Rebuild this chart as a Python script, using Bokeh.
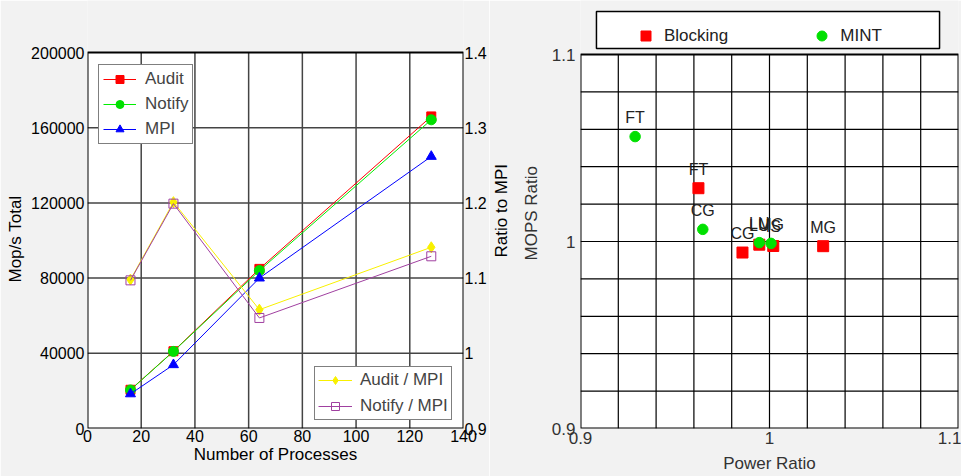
from bokeh.plotting import figure
from bokeh.layouts import row
from bokeh.models import (Range1d, LinearAxis, FixedTicker, NumeralTickFormatter,
                          Legend, LegendItem, Title)
from bokeh.core.properties import value
from bokeh.embed import file_html
from bokeh.resources import INLINE

# ---------------- data: left chart ----------------
processes = [16, 32, 64, 128]
audit = [20600, 41100, 84900, 166000]
notify = [20500, 41000, 84000, 164200]
mpi = [18400, 33900, 80000, 144700]
audit_mpi = [1.098, 1.201, 1.058, 1.141]
notify_mpi = [1.097, 1.199, 1.047, 1.129]

x_ticks = [0, 20, 40, 60, 80, 100, 120, 140]
mops_ticks = [0, 40000, 80000, 120000, 160000, 200000]
ratio_ticks = [0.9, 1.0, 1.1, 1.2, 1.3, 1.4]

# ---------------- data: right chart ----------------
bench_blocking = ["FT", "CG", "LU", "IS", "MG"]
power_blocking = [0.9624, 0.9857, 0.9946, 1.0020, 1.0284]
mops_blocking = [1.0285, 0.9941, 0.9983, 0.9976, 0.9975]
bench_mint = ["FT", "CG", "LU", "MG"]
power_mint = [0.9289, 0.9647, 0.9946, 1.0008]
mops_mint = [1.0561, 1.0065, 0.9994, 0.9990]

ratio2_ticks = [0.9, 1.0, 1.1]
ratio2_grid = [0.92, 0.94, 0.96, 0.98, 1.00, 1.02, 1.04, 1.06, 1.08]

BG = "#f2f2f2"
FONT = "Liberation Sans"
H = 476
BOTTOM = 48          # both figures: x axis area height
FRAME_H = H - BOTTOM  # frames run from the canvas top down to the x axis

x_lo, x_hi = x_ticks[0], x_ticks[-1]
m_lo, m_hi = mops_ticks[0], mops_ticks[-1]
r_lo, r_hi = ratio_ticks[0], ratio_ticks[-1]
p_lo, p_hi = ratio2_ticks[0], ratio2_ticks[-1]


def axis_style(ax, tick_size, color):
    ax.major_tick_out = 0
    ax.major_tick_in = 0
    ax.minor_tick_line_color = None
    ax.axis_line_color = None
    ax.major_label_text_font = FONT
    ax.major_label_text_font_size = tick_size
    ax.major_label_text_color = color
    ax.axis_label_text_font = FONT
    ax.axis_label_text_font_size = "17px"
    ax.axis_label_text_font_style = "normal"
    ax.axis_label_text_color = color


def side_title(text, offset, standoff, color):
    return Title(text=text, align="left", offset=offset, standoff=standoff,
                 text_font=FONT, text_font_size="17px", text_font_style="normal",
                 text_color=color)


# ================= left figure =================
L_W = 489
L_TOP = 52  # pixel row of the top of the plot box
m_top = m_hi + L_TOP * (m_hi - m_lo) / (FRAME_H - L_TOP)
r_top = r_hi + L_TOP * (r_hi - r_lo) / (FRAME_H - L_TOP)

p1 = figure(width=L_W, height=H, x_range=Range1d(x_lo, x_hi), y_range=Range1d(m_lo, m_top),
            output_backend="svg", toolbar_location=None,
            min_border_left=87, min_border_right=L_W - 87 - 378, min_border_top=0,
            min_border_bottom=BOTTOM,
            background_fill_color=BG, border_fill_color=BG, outline_line_color=None)
p1.extra_y_ranges = {"ratio": Range1d(r_lo, r_top)}
p1.grid.visible = False

p1.xaxis.ticker = FixedTicker(ticks=x_ticks)
p1.yaxis.ticker = FixedTicker(ticks=mops_ticks)
p1.yaxis.formatter = NumeralTickFormatter(format="0")
p1.xaxis.axis_label = "Number of Processes"

rax = LinearAxis(y_range_name="ratio", ticker=FixedTicker(ticks=ratio_ticks),
                 formatter=NumeralTickFormatter(format="0.[0]"))
p1.add_layout(rax, "right")

for ax in p1.axis:
    axis_style(ax, "16px", "black")
p1.xaxis.major_label_standoff = 1
p1.xaxis.axis_label_standoff = 0
p1.yaxis.major_label_standoff = 3
rax.major_label_standoff = 1

p1.add_layout(side_title("Mop/s Total", FRAME_H - 282, 7, "black"), "left")

# plot box and grid
p1.quad(left=[x_lo], right=[x_hi], bottom=[m_lo], top=[m_hi], fill_color="white", line_color=None)
gx = x_ticks[1:-1]
gy = mops_ticks[1:-1]
p1.segment(x0=gx, x1=gx, y0=[m_lo] * len(gx), y1=[m_hi] * len(gx),
           line_color="#444444", line_width=1.5)
p1.segment(x0=[x_lo] * len(gy), x1=[x_hi] * len(gy), y0=gy, y1=gy,
           line_color="#444444", line_width=1.5)
p1.quad(left=[x_lo], right=[x_hi], bottom=[m_lo], top=[m_hi], fill_color=None,
        line_color="black", line_width=2)

la = p1.line(processes, audit, line_color="red", line_width=1)
sa = p1.scatter(processes, audit, marker="square", size=9, color="red")
ln = p1.line(processes, notify, line_color="#00ee00", line_width=1)
sn = p1.scatter(processes, notify, marker="circle", size=10, color="#00e000")
lm = p1.line(processes, mpi, line_color="blue", line_width=1)
sm = p1.scatter(processes, mpi, marker="triangle", size=10, color="blue")
lam = p1.line(processes, audit_mpi, y_range_name="ratio", line_color="#f8f000", line_width=1)
sam = p1.scatter(processes, audit_mpi, y_range_name="ratio", marker="diamond", size=11,
                 color="#f8f000")
lnm = p1.line(processes, notify_mpi, y_range_name="ratio", line_color="#a040a0", line_width=1)
snm = p1.scatter(processes, notify_mpi, y_range_name="ratio", marker="square", size=9,
                 fill_color=None, line_color="#a040a0", line_width=1)

leg1 = Legend(items=[LegendItem(label="Audit", renderers=[la, sa]),
                     LegendItem(label="Notify", renderers=[ln, sn]),
                     LegendItem(label="MPI", renderers=[lm, sm])],
              location=(11, 284), padding=4, spacing=5, margin=0,
              glyph_width=33, glyph_height=20, label_standoff=9,
              label_text_font=FONT, label_text_font_size="17px",
              border_line_color="black", border_line_width=1.5,
              background_fill_color="white", background_fill_alpha=1)
leg2 = Legend(items=[LegendItem(label="Audit / MPI", renderers=[lam, sam]),
                     LegendItem(label="Notify / MPI", renderers=[lnm, snm])],
              location=(227, 8), padding=3, spacing=6, margin=0,
              glyph_width=34, glyph_height=20, label_standoff=8,
              label_text_font=FONT, label_text_font_size="17px",
              border_line_color="black", border_line_width=1.5,
              background_fill_color="white", background_fill_alpha=1)
p1.add_layout(leg1)
p1.add_layout(leg2)

# ================= right figure =================
R_W = 961 - L_W
R_LEFT, R_RIGHT = 90, 3
R_TOP = 54   # pixel row of the top of the plot box
FRAME_W = R_W - R_LEFT - R_RIGHT
ypp = (p_hi - p_lo) / (FRAME_H - R_TOP)
xpp = (p_hi - p_lo) / FRAME_W
y_top = p_hi + R_TOP * ypp


def px_x(px):   # px from frame left -> data x
    return p_lo + px * xpp


def px_y(py):   # px from canvas top -> data y
    return p_lo + (FRAME_H - py) * ypp


p2 = figure(width=R_W, height=H, x_range=Range1d(p_lo, p_hi), y_range=Range1d(p_lo, y_top),
            output_backend="svg", toolbar_location=None,
            min_border_left=R_LEFT, min_border_right=R_RIGHT, min_border_top=0,
            min_border_bottom=BOTTOM,
            background_fill_color=BG, border_fill_color=BG, outline_line_color=None)
p2.xaxis.ticker = FixedTicker(ticks=ratio2_ticks)
p2.yaxis.ticker = FixedTicker(ticks=ratio2_ticks)
p2.xaxis.formatter = NumeralTickFormatter(format="0.[0]")
p2.yaxis.formatter = NumeralTickFormatter(format="0.[0]")
p2.grid.visible = False
p2.xaxis.axis_label = "Power Ratio"
for ax in p2.axis:
    axis_style(ax, "17px", "#333333")
p2.xaxis.major_label_standoff = 3
p2.xaxis.axis_label_standoff = 7
p2.yaxis.major_label_standoff = 5

# y label of the right chart, then the left chart's right-axis label (sits in this margin)
p2.add_layout(side_title("MOPS Ratio", FRAME_H - 260, 16, "#333333"), "left")
p2.add_layout(side_title("Ratio to MPI", FRAME_H - 257, 1, "black"), "left")

p2.quad(left=[p_lo], right=[p_hi], bottom=[p_lo], top=[p_hi], fill_color="white", line_color=None)
n = len(ratio2_grid)
p2.segment(x0=ratio2_grid, x1=ratio2_grid, y0=[p_lo] * n, y1=[p_hi] * n,
           line_color="black", line_width=1.2)
p2.segment(x0=[p_lo] * n, x1=[p_hi] * n, y0=ratio2_grid, y1=ratio2_grid,
           line_color="black", line_width=1.2)
p2.quad(left=[p_lo], right=[p_hi], bottom=[p_lo], top=[p_hi], fill_color=None,
        line_color="black", line_width=2)

# legend box (layout decoration)
p2.quad(left=[px_x(16)], right=[px_x(360)], bottom=[px_y(48)], top=[px_y(11)],
        fill_color="white", line_color="black", line_width=1.5)

sq = p2.scatter(power_blocking, mops_blocking, marker="square", size=11, color="red")
ci = p2.scatter(power_mint, mops_mint, marker="circle", size=10.5, color="#00e000")
p2.text(x=power_blocking, y=mops_blocking, text=bench_blocking, y_offset=-19,
        text_align="center", text_baseline="middle", text_font=value(FONT),
        text_font_size="16px", text_color="#222222")
p2.text(x=power_mint, y=mops_mint, text=bench_mint, y_offset=-19,
        text_align="center", text_baseline="middle", text_font=value(FONT),
        text_font_size="16px", text_color="#222222")

leg3 = Legend(items=[LegendItem(label="Blocking", renderers=[sq]),
                     LegendItem(label="MINT", renderers=[ci])],
              orientation="horizontal", location=(53, FRAME_H - 48), padding=6,
              spacing=81, margin=0,
              glyph_width=25, glyph_height=25, label_standoff=6,
              label_text_font=FONT, label_text_font_size="17px", label_text_color="#222222",
              border_line_color=None, background_fill_alpha=0)
p2.add_layout(leg3)

layout = row(p1, p2)
open("out.html", "w").write(file_html(layout, INLINE))
